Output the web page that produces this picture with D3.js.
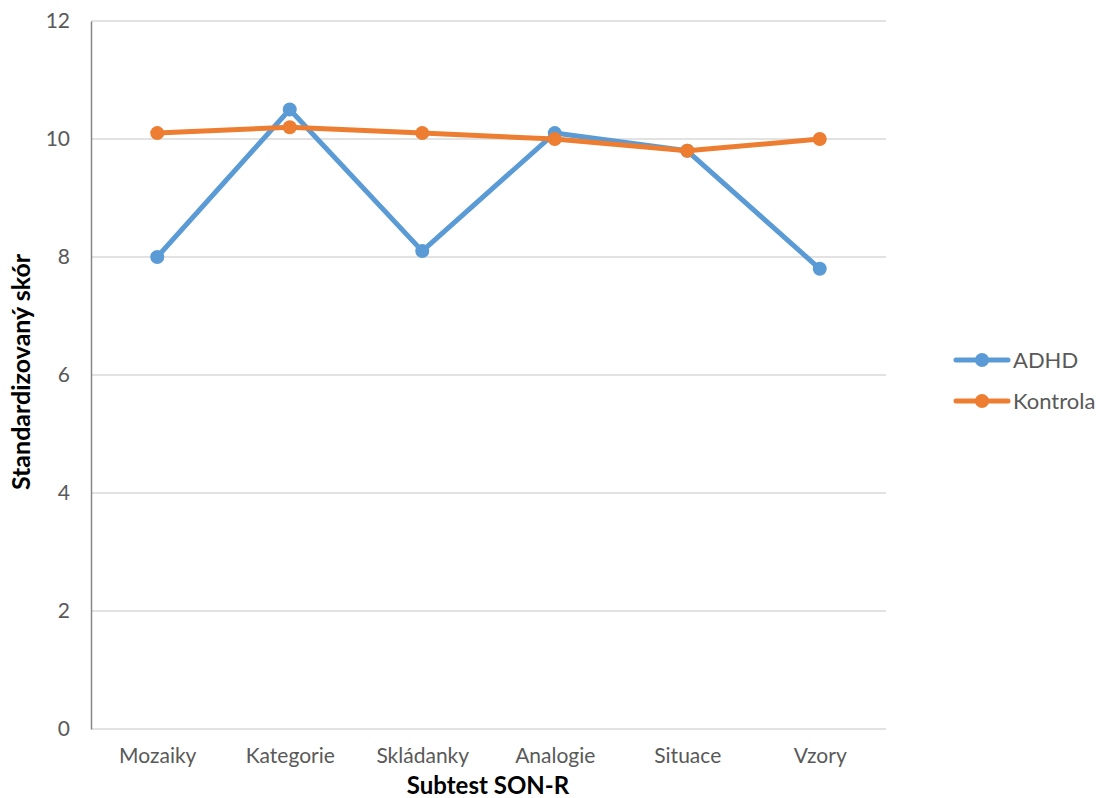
<!DOCTYPE html>
<html>
<head>
<meta charset="utf-8">
<script src="https://cdn.jsdelivr.net/npm/d3@7"></script>
<style>
  body { margin: 0; background: #fff; }
  text { font-family: Lato, "Open Sans", sans-serif; }
</style>
</head>
<body>
<script>
// chart data
var categories = ["Mozaiky", "Kategorie", "Skládanky", "Analogie", "Situace", "Vzory"];
var adhd = [8.0, 10.5, 8.1, 10.1, 9.8, 7.8];
var kontrola = [10.1, 10.2, 10.1, 10.0, 9.8, 10.0];
var yTicks = [0, 2, 4, 6, 8, 10, 12];
var seriesNames = ["ADHD", "Kontrola"];
var seriesColors = ["#5b9bd5", "#ed7d31"];

var W = 1102, H = 798;
var plotL = 91, plotR = 886, plotT = 21, plotB = 729;

var svg = d3.select("body").append("svg")
    .attr("width", W)
    .attr("height", H);

var x = d3.scalePoint()
    .domain(categories)
    .range([plotL, plotR])
    .padding(0.5);

var y = d3.scaleLinear()
    .domain([0, 12])
    .range([plotB, plotT]);

//gridlines
svg.append("g")
    .selectAll("line")
    .data(yTicks.filter(function(d) { return d > 0; }))
    .enter()
    .append("line")
    .attr("x1", plotL)
    .attr("x2", plotR)
    .attr("y1", function(d) { return y(d); })
    .attr("y2", function(d) { return y(d); })
    .attr("stroke", "#d9d9d9")
    .attr("stroke-width", 1.3);

// x axis (light line at 0)
svg.append("line")
    .attr("x1", plotL).attr("x2", plotR)
    .attr("y1", y(0)).attr("y2", y(0))
    .attr("stroke", "#d9d9d9")
    .attr("stroke-width", 1.3);

// y axis
var yAxis = svg.append("g")
    .attr("transform", "translate(" + plotL + ",0)")
    .call(d3.axisLeft(y).tickValues(yTicks).tickSize(0).tickPadding(21));
yAxis.select(".domain").attr("stroke", "#868686").attr("stroke-width", 1.5);
yAxis.selectAll("text")
    .attr("fill", "#595959")
    .style("font-size", "21px");

// x labels
var xAxis = svg.append("g")
    .attr("transform", "translate(0," + plotB + ")")
    .call(d3.axisBottom(x).tickSize(0).tickPadding(19));
xAxis.select(".domain").remove();
xAxis.selectAll("text")
    .attr("fill", "#595959")
    .style("font-size", "21px");

// axis titles
svg.append("text")
    .attr("x", 488)
    .attr("y", 794)
    .attr("text-anchor", "middle")
    .style("font-size", "24px")
    .style("font-weight", "bold")
    .attr("fill", "#000")
    .text("Subtest SON-R");

svg.append("text")
    .attr("transform", "translate(30,372) rotate(-90)")
    .attr("text-anchor", "middle")
    .style("font-size", "25px")
    .style("font-weight", "bold")
    .attr("fill", "#000")
    .text("Standardizovaný skór");

var line = d3.line()
    .x(function(d, i) { return x(categories[i]); })
    .y(function(d) { return y(d); });

var allSeries = [adhd, kontrola];

allSeries.forEach(function(vals, s) {
    svg.append("path")
        .datum(vals)
        .attr("d", line)
        .attr("fill", "none")
        .attr("stroke", seriesColors[s])
        .attr("stroke-width", 5)
        .attr("stroke-linejoin", "round")
        .attr("stroke-linecap", "round");
    svg.append("g")
        .selectAll("circle")
        .data(vals)
        .enter()
        .append("circle")
        .attr("cx", function(d, i) { return x(categories[i]); })
        .attr("cy", function(d) { return y(d); })
        .attr("r", 7)
        .attr("fill", seriesColors[s]);
});

// legend
var legend = svg.append("g");
seriesNames.forEach(function(name, i) {
    var ly = 360 + i * 41;
    legend.append("line")
        .attr("x1", 956).attr("x2", 1008)
        .attr("y1", ly).attr("y2", ly)
        .attr("stroke", seriesColors[i])
        .attr("stroke-width", 5)
        .attr("stroke-linecap", "round");
    legend.append("circle")
        .attr("cx", 982).attr("cy", ly)
        .attr("r", 7)
        .attr("fill", seriesColors[i]);
    legend.append("text")
        .attr("x", 1013)
        .attr("y", ly)
        .attr("dy", "0.35em")
        .attr("fill", "#595959")
        .style("font-size", "22px")
        .text(name);
});
</script>
</body>
</html>
